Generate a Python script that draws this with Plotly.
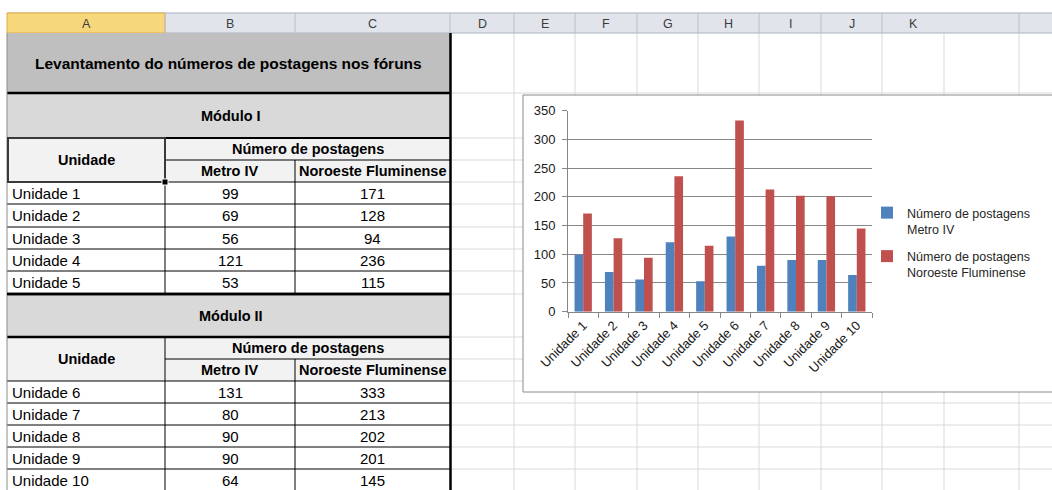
import plotly.graph_objects as go

# ---------------- data ----------------
unidades = ["Unidade 1", "Unidade 2", "Unidade 3", "Unidade 4", "Unidade 5",
            "Unidade 6", "Unidade 7", "Unidade 8", "Unidade 9", "Unidade 10"]
metro_iv = [99, 69, 56, 121, 53, 131, 80, 90, 90, 64]
noroeste = [171, 128, 94, 236, 115, 333, 213, 202, 201, 145]
serie_metro = "Número de postagens<br>Metro IV"
serie_noroeste = "Número de postagens<br>Noroeste Fluminense"
col_letters = ["A", "B", "C", "D", "E", "F", "G", "H", "I", "J", "K"]
titulo = "Levantamento do números de postagens nos fóruns"
modulos = ["Módulo I", "Módulo II"]
hdr_unidade = "Unidade"
hdr_numero = "Número de postagens"
hdr_metro = "Metro IV"
hdr_noroeste = "Noroeste Fluminense"
y_ticks = [0, 50, 100, 150, 200, 250, 300, 350]

# ---------------- geometry (pixels) ----------------
W, H = 1052, 490
col_edges = [7, 165, 295, 450, 514, 575, 637, 698, 759, 821, 882, 944, 1019]
HDR_TOP, HDR_BOT = 13, 33
TITLE_BOT = 93
blocks = [
    dict(mod_top=93, mod_bot=138, h_mid=160, h_bot=182, rows=[182, 204, 227, 249, 271, 294]),
    dict(mod_top=294, mod_bot=337, h_mid=359, h_bot=381, rows=[381, 403, 425, 447, 469, 491]),
]
right_rows = [93, 138, 160, 182, 204, 227, 249, 271, 294, 337, 359, 381, 403, 425, 447, 469]
CHART = dict(x0=523, y0=95, x1=1070, y1=392)
PLOT_X0, PLOT_X1 = 568, 872
PLOT_Y0, PLOT_Y1 = 311.7, 110.7   # pixel y for 0 and 350

FONT = "Liberation Sans"
shapes, annotations = [], []


def rect(x0, y0, x1, y1, fill="rgba(0,0,0,0)", lc="rgba(0,0,0,0)", lw=0):
    shapes.append(dict(type="rect", xref="x", yref="y", x0=x0, y0=y0, x1=x1, y1=y1,
                       fillcolor=fill, line=dict(color=lc, width=lw), layer="below"))


def line(x0, y0, x1, y1, color="#000000", w=1):
    shapes.append(dict(type="line", xref="x", yref="y", x0=x0, y0=y0, x1=x1, y1=y1,
                       line=dict(color=color, width=w), layer="below"))


def text(x, y, s, size=15, bold=False, color="#000000", anchor="center"):
    annotations.append(dict(xref="x", yref="y", x=x, y=y, text=f"<b>{s}</b>" if bold else s,
                            showarrow=False, xanchor=anchor, yanchor="middle",
                            font=dict(family=FONT, size=size, color=color)))


# ---------- spreadsheet grid to the right of the table ----------
GRID = "#d9d9d9"
for yy in right_rows:
    line(452, yy, W, yy, GRID, 1)
for xx in col_edges[4:]:
    line(xx, HDR_BOT, xx, H, GRID, 1)

# ---------- column header row ----------
rect(col_edges[0], HDR_TOP, W, HDR_BOT, fill="#e1e5eb")
line(col_edges[0], HDR_TOP, W, HDR_TOP, "#a9b2bf", 1)
line(col_edges[0], HDR_BOT, W, HDR_BOT, "#a9b2bf", 1)
rect(col_edges[0], HDR_TOP, col_edges[1], HDR_BOT, fill="#f7d77c", lc="#e2ad42", lw=1)
for i, letter in enumerate(col_letters):
    x0 = col_edges[i]
    x1 = col_edges[i + 1] if i + 1 < len(col_edges) else W
    if i > 0:
        line(x0, HDR_TOP, x0, HDR_BOT, "#b9c0ca", 1)
    text((x0 + x1) / 2, (HDR_TOP + HDR_BOT) / 2 + 1, letter, size=12.5, color="#3c3c3c")
line(col_edges[-1], HDR_TOP, col_edges[-1], HDR_BOT, "#b9c0ca", 1)

# ---------- table ----------
XA, XB, XC, XD = col_edges[0], col_edges[1], col_edges[2], col_edges[3]
rect(XA, HDR_BOT, XD, TITLE_BOT, fill="#bfbfbf")
text((XA + XD) / 2, (HDR_BOT + TITLE_BOT) / 2, titulo, size=15.5, bold=True)

values = list(zip(unidades, metro_iv, noroeste))
for b, blk in enumerate(blocks):
    mt, mb, hm, hb, rows = blk["mod_top"], blk["mod_bot"], blk["h_mid"], blk["h_bot"], blk["rows"]
    rect(XA, mt, XD, mb, fill="#d9d9d9")
    text((XA + XD) / 2 + 2, (mt + mb) / 2, modulos[b], size=14.5, bold=True)
    rect(XA, mb, XD, hb, fill="#f2f2f2")
    text((XA + XB) / 2, (mb + hb) / 2, hdr_unidade, size=14.5, bold=True)
    text((XB + XD) / 2, (mb + hm) / 2, hdr_numero, size=14.5, bold=True)
    text((XB + XC) / 2, (hm + hb) / 2, hdr_metro, size=14.5, bold=True)
    text((XC + XD) / 2, (hm + hb) / 2, hdr_noroeste, size=14.5, bold=True)
    for r in range(5):
        name, m, n = values[b * 5 + r]
        yc = (rows[r] + rows[r + 1]) / 2
        text(XA + 3, yc, name, size=15, anchor="left")
        text((XB + XC) / 2, yc, str(m), size=15)
        text((XC + XD) / 2, yc, str(n), size=15)
    # borders
    line(XA, mt, XD, mt, "#000000", 2.5)
    line(XA, mb, XD, mb, "#000000", 2.5 if b == 1 else 1)
    line(XB, mb, XD, mb, "#000000", 2)
    line(XB, hm, XD, hm, "#000000", 1)
    for yy in rows:
        line(XA, yy, XD, yy, "#000000", 1)
    line(XB, mb, XB, rows[-1], "#000000", 1)
    line(XC, hm, XC, rows[-1], "#000000", 1)
line(XA, HDR_BOT, XA, H, "#8c8c8c", 1)
line(XD + 0.5, HDR_BOT, XD + 0.5, H, "#000000", 2.5)
line(XA, blocks[1]["mod_top"], XD, blocks[1]["mod_top"], "#000000", 2.5)

# active cell selection
rect(XA + 1, blocks[0]["mod_bot"], XB, blocks[0]["h_bot"], lc="#3a3a3a", lw=2)
rect(XB - 3, blocks[0]["h_bot"] - 3, XB + 3, blocks[0]["h_bot"] + 3, fill="#000000", lc="#ffffff", lw=1)

# ---------- chart frame ----------
rect(CHART["x0"], CHART["y0"], CHART["x1"], CHART["y1"], fill="#ffffff", lc="#8a8a8a", lw=1)

# ---------- figure ----------
fig = go.Figure()
fig.add_trace(go.Scatter(x=[], y=[], xaxis="x", yaxis="y", showlegend=False, hoverinfo="skip"))
fig.add_trace(go.Bar(x=unidades, y=metro_iv, name=serie_metro, legendgroup="m",
                     marker=dict(color="#4f81bd", line=dict(width=0)), xaxis="x2", yaxis="y2"))
fig.add_trace(go.Bar(x=unidades, y=noroeste, name=serie_noroeste, legendgroup="n",
                     marker=dict(color="#c0504d", line=dict(width=0)), xaxis="x2", yaxis="y2"))

fig.update_layout(
    template="none",
    width=W, height=H, margin=dict(l=0, r=0, t=0, b=0, pad=0, autoexpand=False),
    paper_bgcolor="#ffffff", plot_bgcolor="rgba(0,0,0,0)",
    shapes=shapes, annotations=annotations,
    barmode="group", bargap=0.43, bargroupgap=0,
    hovermode=False,
    xaxis=dict(range=[0, W], domain=[0, 1], visible=False, fixedrange=True, automargin=False),
    yaxis=dict(range=[H, 0], domain=[0, 1], visible=False, fixedrange=True, automargin=False),
    xaxis2=dict(domain=[PLOT_X0 / W, PLOT_X1 / W], anchor="y2", type="category", automargin=False,
                tickangle=-45, ticks="outside", tickson="boundaries", ticklen=5,
                tickcolor="#868686", showline=True, linecolor="#868686", linewidth=1,
                showgrid=False, tickfont=dict(family=FONT, size=13, color="#1a1a1a"), fixedrange=True),
    yaxis2=dict(domain=[(H - PLOT_Y0) / H, (H - PLOT_Y1) / H], anchor="x2", range=[0, 350],
                automargin=False,
                tickvals=y_ticks, ticks="outside", ticklen=5, tickcolor="#868686",
                showline=True, linecolor="#868686", linewidth=1,
                showgrid=True, gridcolor="#868686", gridwidth=1, zeroline=False,
                ticklabelstandoff=4,
                tickfont=dict(family=FONT, size=13, color="#1a1a1a"), fixedrange=True),
    legend=dict(x=867 / W, xanchor="left", y=(H - 198) / H, yanchor="top", valign="top",
                font=dict(family=FONT, size=12.5, color="#262626"), bgcolor="rgba(0,0,0,0)",
                traceorder="grouped", tracegroupgap=8, itemwidth=30),
    showlegend=True,
)

fig.write_html("out.html", config={"displayModeBar": False},
               post_script="document.body.style.margin='0';document.body.style.overflow='hidden';")
